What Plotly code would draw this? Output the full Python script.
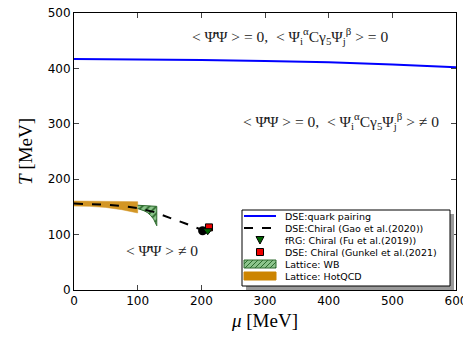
import plotly.graph_objects as go

# ---- data ----
mu_pair = [0, 100, 200, 300, 400, 500, 600]
T_pair = [417, 416.5, 415, 413.5, 411, 407, 402]

mu_chiral = [0, 25, 50, 75, 100, 125, 150, 175, 200, 203]
T_chiral = [156, 155.5, 154, 151.5, 148, 141, 131, 120, 109, 107.5]

mu_cep = [202]
T_cep = [107]

mu_frg = [210]
T_frg = [107]

mu_gunkel = [212]
T_gunkel = [113]

mu_wb_up = [100, 130]
T_wb_up = [153, 151]
mu_wb_lo = [130, 125, 120, 115, 110, 105, 100]
T_wb_lo = [116, 128, 135, 140, 143, 145, 147]

mu_hot_up = [0, 100]
T_hot_up = [160.5, 159.5]
mu_hot_lo = [100, 75, 50, 25, 0]
T_hot_lo = [139, 145, 149, 151, 151.5]

x_ticks = [0, 100, 200, 300, 400, 500, 600]
y_ticks = [0, 100, 200, 300, 400, 500]

legend_labels = ["DSE:quark pairing", "DSE:Chiral (Gao et al.(2020))",
                 "fRG: Chiral (Fu et al.(2019))", "DSE: Chiral (Gunkel et al.(2021)",
                 "Lattice: WB", "Lattice: HotQCD"]

BLUE = "#0000ff"
ORANGE = "#cc8400"
GREEN_BG = "#8cc48c"
GREEN_FG = "#2e6b2e"

fig = go.Figure()

fig.add_trace(go.Scatter(
    x=mu_hot_up + mu_hot_lo, y=T_hot_up + T_hot_lo, fill="toself",
    mode="lines", line=dict(color=ORANGE, width=0.5),
    fillcolor=ORANGE, opacity=0.85, showlegend=False))

fig.add_trace(go.Scatter(
    x=mu_wb_up + mu_wb_lo, y=T_wb_up + T_wb_lo, fill="toself",
    mode="lines", line=dict(color=GREEN_FG, width=1),
    fillcolor=GREEN_BG,
    fillpattern=dict(shape="/", fgcolor=GREEN_FG, bgcolor=GREEN_BG, size=5, solidity=0.35),
    showlegend=False))

fig.add_trace(go.Scatter(
    x=mu_pair, y=T_pair, mode="lines", line=dict(color=BLUE, width=2), showlegend=False))

fig.add_trace(go.Scatter(
    x=mu_chiral, y=T_chiral, mode="lines",
    line=dict(color="black", width=2, dash="dash"), showlegend=False))

fig.add_trace(go.Scatter(
    x=mu_cep, y=T_cep, mode="markers",
    marker=dict(color="black", size=9, symbol="circle"), showlegend=False))

fig.add_trace(go.Scatter(
    x=mu_gunkel, y=T_gunkel, mode="markers",
    marker=dict(color="#ee0000", size=7, symbol="square", line=dict(color="black", width=1)),
    showlegend=False))

fig.add_trace(go.Scatter(
    x=mu_frg, y=T_frg, mode="markers",
    marker=dict(color="#006400", size=8, symbol="triangle-down", line=dict(color="black", width=1)),
    showlegend=False))

serif = "Liberation Serif, DejaVu Serif, serif"
ann_font = dict(family=serif, size=15.5, color="#222222")
fig.add_annotation(x=339, y=458, xref="x", yref="y", showarrow=False, font=ann_font,
                   text="&lt; Ψ̄Ψ &gt; = 0,  &lt; Ψ<sub>i</sub><sup>α</sup>Cγ<sub>5</sub>Ψ<sub>j</sub><sup>β</sup> &gt; = 0")
fig.add_annotation(x=420, y=305, xref="x", yref="y", showarrow=False, font=ann_font,
                   text="&lt; Ψ̄Ψ &gt; = 0,  &lt; Ψ<sub>i</sub><sup>α</sup>Cγ<sub>5</sub>Ψ<sub>j</sub><sup>β</sup> &gt; ≠ 0")
fig.add_annotation(x=138, y=72, xref="x", yref="y", showarrow=False, font=ann_font,
                   text="&lt; Ψ̄Ψ &gt; ≠ 0")

# ---- manual legend (screen pixel -> paper helpers) ----
L, R, TOP, BOT = 74, 456, 13, 290
def px(x):
    return (x - L) / (R - L)
def py(y):
    return (BOT - y) / (BOT - TOP)

fig.add_shape(type="rect", xref="paper", yref="paper", x0=px(246), x1=px(454), y0=py(290), y1=py(214),
              fillcolor="#9a9a9a", line=dict(width=0))
fig.add_shape(type="rect", xref="paper", yref="paper", x0=px(242), x1=px(450), y0=py(286), y1=py(210),
              fillcolor="white", line=dict(color="black", width=1))

rows = [216, 228, 240, 252, 264, 276]
sx0, sx1 = 244, 276
scx = (sx0 + sx1) / 2
fig.add_shape(type="line", xref="paper", yref="paper", x0=px(sx0), x1=px(sx1), y0=py(rows[0]), y1=py(rows[0]),
              line=dict(color=BLUE, width=2))
fig.add_shape(type="line", xref="paper", yref="paper", x0=px(sx0), x1=px(sx1), y0=py(rows[1]), y1=py(rows[1]),
              line=dict(color="black", width=2, dash="dash"))
r = rows[2]
fig.add_shape(type="path", xref="paper", yref="paper",
              path=f"M {px(scx-4)},{py(r-3.5)} L {px(scx+4)},{py(r-3.5)} L {px(scx)},{py(r+4)} Z",
              fillcolor="#006400", line=dict(color="black", width=1))
r = rows[3]
fig.add_shape(type="rect", xref="paper", yref="paper", x0=px(scx-3.5), x1=px(scx+3.5), y0=py(r+3.5), y1=py(r-3.5),
              fillcolor="#ee0000", line=dict(color="black", width=1))
r = rows[4]
fig.add_shape(type="rect", xref="paper", yref="paper", x0=px(sx0), x1=px(sx1), y0=py(r+4), y1=py(r-4),
              fillcolor=GREEN_BG, line=dict(color=GREEN_FG, width=1))
for k in range(sx0 - 4, sx1, 5):
    a0, a1 = max(k, sx0), min(k + 8, sx1)
    yb = r + 4 - (a0 - k)
    yt = r + 4 - (a1 - k)
    fig.add_shape(type="line", xref="paper", yref="paper", x0=px(a0), x1=px(a1), y0=py(yb), y1=py(yt),
                  line=dict(color=GREEN_FG, width=1))
r = rows[5]
fig.add_shape(type="rect", xref="paper", yref="paper", x0=px(sx0), x1=px(sx1), y0=py(r+4), y1=py(r-4),
              fillcolor=ORANGE, line=dict(color=ORANGE, width=1))

for lab, r in zip(legend_labels, rows):
    fig.add_annotation(x=px(283), y=py(r), xref="paper", yref="paper", xanchor="left", yanchor="middle",
                       showarrow=False, text=lab,
                       font=dict(family="DejaVu Sans", size=9.5, color="black"))

# page body has an 8px margin, so the figure is 8px smaller and offset
fig.update_layout(
    template="none",
    width=463, height=332,
    margin=dict(l=66, r=15, t=5, b=50, autoexpand=False),
    paper_bgcolor="white", plot_bgcolor="white",
    font=dict(family="DejaVu Sans", size=12, color="black"),
    showlegend=False,
    xaxis=dict(range=[0, 600], tickvals=x_ticks, ticks="inside", ticklen=5,
               showline=True, linecolor="black", linewidth=1, mirror="ticks",
               showgrid=False, zeroline=False, automargin=False, ticklabeloverflow="allow",
               title=dict(text="<i>μ</i> [MeV]", font=dict(family=serif, size=19), standoff=6)),
    yaxis=dict(range=[0, 500], tickvals=y_ticks, ticks="inside", ticklen=5,
               showline=True, linecolor="black", linewidth=1, mirror="ticks",
               showgrid=False, zeroline=False, automargin=False, ticklabeloverflow="allow",
               title=dict(text="<i>T</i> [MeV]", font=dict(family=serif, size=19), standoff=10)),
)

fig.write_html("out.html")
